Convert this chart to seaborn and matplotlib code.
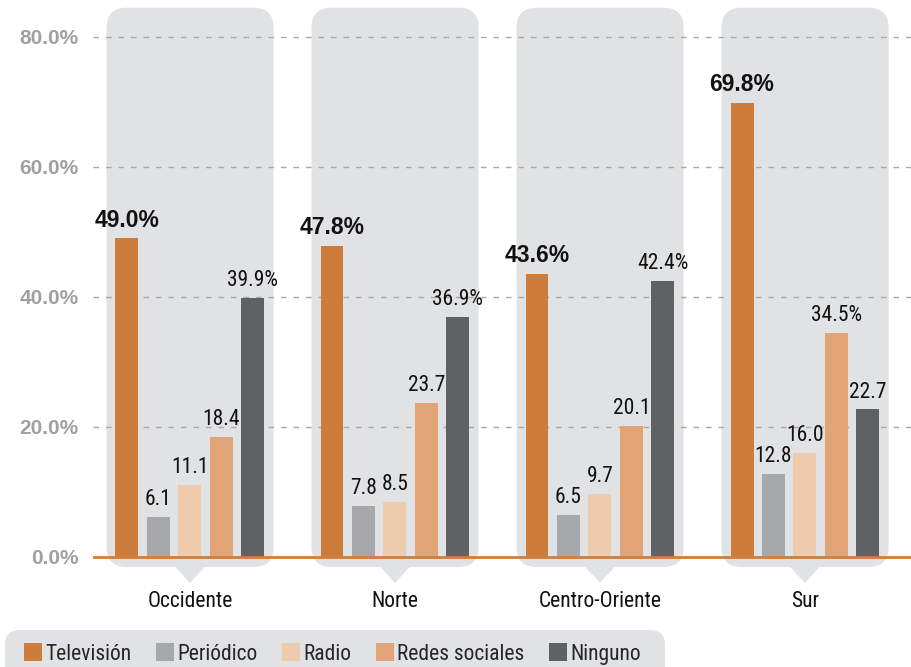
import pandas as pd
import seaborn as sns
import matplotlib.pyplot as plt
from matplotlib.patches import FancyBboxPatch, Polygon, Patch
from matplotlib import font_manager

# Data: share of people by main information medium, per region (%)
regiones = ["Occidente", "Norte", "Centro-Oriente", "Sur"]
medios = ["Televisión", "Periódico", "Radio", "Redes sociales", "Ninguno"]
television = [49.0, 47.8, 43.6, 69.8]
periodico = [6.1, 7.8, 6.5, 12.8]
radio = [11.1, 8.5, 9.7, 16.0]
redes_sociales = [18.4, 23.7, 20.1, 34.5]
ninguno = [39.9, 36.9, 42.4, 22.7]
yticks = [0, 20, 40, 60, 80]
ytick_labels = ["0.0%", "20.0%", "40.0%", "60.0%", "80.0%"]

colores = ["#CF7C3A", "#A7A8AB", "#EFCBAE", "#E0A477", "#606163"]
panel_gray = "#E1E2E4"
axis_orange = "#D07E3C"

sns.set_style("white")
installed = {f.name for f in font_manager.fontManager.ttflist}
narrow_candidates = ["Liberation Sans Narrow", "Arial Narrow", "Roboto Condensed",
                     "Archivo Narrow", "PT Sans Narrow", "Sofia Sans Semi Condensed"]
narrow = next((n for n in narrow_candidates if n in installed), "Liberation Sans")
plt.rcParams["font.family"] = [narrow, "DejaVu Sans"]
BOLD = ["Liberation Sans", "DejaVu Sans"]
FS = 15.5

series = [television, periodico, radio, redes_sociales, ninguno]
df = pd.DataFrame(
    [(r, m, v[i]) for m, v in zip(medios, series) for i, r in enumerate(regiones)],
    columns=["Región", "Medio", "Porcentaje"],
)

W, H = 912, 667
fig = plt.figure(figsize=(W / 100, H / 100), dpi=100)
ax = fig.add_axes([93 / W, 1 - 615.5 / H, 1 - 93 / W, 615.5 / H])

sns.barplot(
    data=df, x="Región", y="Porcentaje", hue="Medio",
    order=regiones, hue_order=medios, palette=colores,
    width=0.768, gap=0.27, saturation=1, linewidth=0, legend=False,
    ax=ax, zorder=2,
)

ax.set_xlim(-0.473, 3.522)
ax.set_ylim(-9, 85.69)
for s in ax.spines.values():
    s.set_visible(False)
ax.set_xlabel("")
ax.set_ylabel("")
ax.set_xticks([])
ax.set_yticks(yticks)
ax.set_yticklabels(ytick_labels, family=BOLD, fontweight="bold",
                   fontsize=15, color="#A0A0A0")
ax.tick_params(axis="y", length=0, pad=10.5)

# Rounded background panels with a pointer under each region
x_aspect = 205 / 6.5
for j, region in enumerate(regiones):
    ax.add_patch(FancyBboxPatch(
        (j - 0.407, -1.54), 0.815, 86.04,
        boxstyle="round,pad=0,rounding_size=0.0976", mutation_aspect=x_aspect,
        fc=panel_gray, ec="none", zorder=0.2))
    ax.add_patch(Polygon([(j - 0.078, -1.3), (j + 0.078, -1.3), (j, -4.0)],
                         closed=True, fc=panel_gray, ec="none", zorder=0.2))
    ax.text(j, -6.8, region, ha="center", va="center", fontsize=FS, color="#111111")

# Dashed gridlines and orange baseline
for t in yticks[1:]:
    ax.axhline(t, color="#A8A8A8", lw=1, ls=(0, (4, 5)), zorder=0.5)
ax.axhline(0, color=axis_orange, lw=2, zorder=3)

# Value labels: largest in bold with %, second largest with %, rest plain
for j in range(len(regiones)):
    vals = [s[j] for s in series]
    order = sorted(range(len(vals)), key=lambda k: -vals[k])
    for k, bar in enumerate(ax.containers):
        rect = bar.patches[j]
        v = vals[k]
        if k == order[0]:
            txt, kw = f"{v:.1f}%", dict(family=BOLD, fontweight="bold", fontsize=16.5)
        elif k == order[1]:
            txt, kw = f"{v:.1f}%", dict(fontsize=FS)
        else:
            txt, kw = f"{v:.1f}", dict(fontsize=FS)
        ax.annotate(txt, (rect.get_x() + rect.get_width() / 2, rect.get_height()),
                    xytext=(0, 5), textcoords="offset points",
                    ha="center", va="bottom", color="#111111", **kw)

# Legend on a rounded gray strip
fig.patches.append(FancyBboxPatch(
    (0.05, -0.3), 6.6, 0.67, boxstyle="round,pad=0,rounding_size=0.15",
    transform=fig.dpi_scale_trans, fc=panel_gray, ec="none", zorder=0))
handles = [Patch(fc=c, ec="none") for c in colores]
fig.legend(handles, medios, loc="center left",
           bbox_to_anchor=(24 / W, (H - 654) / H), ncol=5, frameon=False,
           borderpad=0, borderaxespad=0, handlelength=0.84, handleheight=0.9,
           handletextpad=0.14, columnspacing=1.15, fontsize=FS)

fig.savefig("out.png", dpi=100)
